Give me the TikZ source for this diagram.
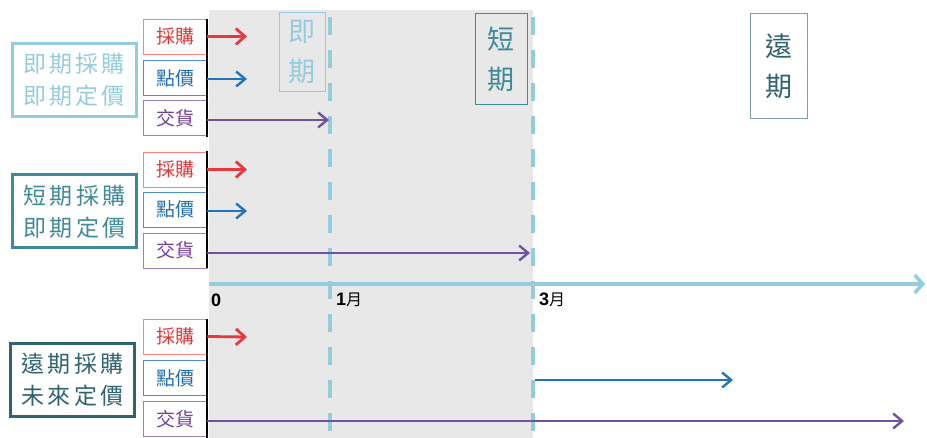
\documentclass[tikz,border=0pt]{standalone}
\usepackage{fontspec}
\setmainfont{Liberation Sans}
\newfontfamily\cjk{Noto Sans CJK TC}
\newfontfamily\cjksp[LetterSpace=14]{Noto Sans CJK TC}
\usetikzlibrary{arrows.meta}
\definecolor{lteal}{HTML}{93CDDD}
\definecolor{mteal}{HTML}{3F8A99}
\definecolor{dteal}{HTML}{2F6370}
\definecolor{bgray}{HTML}{E8E8E8}
\definecolor{redb}{HTML}{FF8080}
\definecolor{redt}{HTML}{E53535}
\definecolor{redA}{HTML}{E8383D}
\definecolor{blueb}{HTML}{4A90D0}
\definecolor{bluet}{HTML}{1F6DB5}
\definecolor{blueA}{HTML}{2275BA}
\definecolor{purb}{HTML}{9A80C0}
\definecolor{purt}{HTML}{7040A0}
\definecolor{purA}{HTML}{7052A0}
\definecolor{ydk}{HTML}{7F9EA6}
\tikzset{
  smallbox/.style={draw, line width=0.8pt, minimum width=64pt, minimum height=35pt, inner sep=0pt, font=\cjk\fontsize{19}{19}\selectfont},
  bigbox/.style={draw, line width=3pt, minimum width=124pt, minimum height=73pt, inner sep=0pt, align=center, font=\cjksp\fontsize{23}{32}\selectfont},
  periodbox/.style={draw, line width=1pt, inner sep=0pt, align=center, font=\cjk\fontsize{27}{40}\selectfont},
  arr/.style={line width=2.8pt, -{Straight Barb[length=9pt,width=16pt,line width=2.8pt]}},
  arrthin/.style={line width=2.4pt, -{Straight Barb[length=9pt,width=15pt,line width=2.4pt]}},
  dash1/.style={lteal, line width=4pt, dash pattern=on 18pt off 15pt},
  vline/.style={black, line width=1.5pt},
  axlab/.style={anchor=west, inner sep=0pt, font=\bfseries\fontsize{18}{18}\selectfont}
}
\begin{document}
\begin{tikzpicture}[x=1pt,y=-1pt]
\useasboundingbox (0,0) rectangle (927,438);
% gray background
\fill[bgray] (209,10) rectangle (533,438);
% dashed period lines
\draw[dash1] (330,17) -- (330,438);
\draw[dash1] (533,17) -- (533,438);
% axis
\coordinate (ax0) at (209,284);
\coordinate (axE) at (925,284);
\draw[lteal, line width=3.5pt, -{Straight Barb[length=8pt,width=18pt,line width=3.5pt]}] (ax0) -- (axE);
\node[axlab] (l0) at (211,300) {0};
\node[axlab] (l1) at (336,300) {1{\cjk\mdseries\fontsize{16}{16}\selectfont 月}};
\node[axlab] (l3) at (539,300) {3{\cjk\mdseries\fontsize{16}{16}\selectfont 月}};
% period labels
\node[periodbox, draw=lteal, text=lteal, minimum width=46pt, minimum height=79pt] (p1) at (302,52.5) {即\\期};
\node[periodbox, draw=mteal, text=mteal, minimum width=52pt, minimum height=91pt] (p2) at (501,59.5) {短\\期};
\node[periodbox, draw=ydk, text=dteal, minimum width=57pt, minimum height=105pt] (p3) at (778.5,66.5) {遠\\期};
% big boxes
\node[bigbox, draw=lteal, text=lteal] (g1) at (74,80) {即期採購\\即期定價};
\node[bigbox, draw=mteal, text=mteal] (g2) at (74.5,211.5) {短期採購\\即期定價};
\node[bigbox, draw=dteal, text=dteal] (g3) at (72.5,380) {遠期採購\\未來定價};
% group 1
\node[smallbox, draw=redb, text=redt] (b1a) at (175,36.5) {採購};
\node[smallbox, draw=blueb, text=bluet] (b1b) at (175,78) {點價};
\node[smallbox, draw=purb, text=purt] (b1c) at (175,118) {交貨};
\draw[vline] (207,19) -- (207,137);
\coordinate (s1b) at (207,79);
\coordinate (s1c) at (207,120);
\coordinate (e1a) at (247,36.5);
\coordinate (e1b) at (247,79);
\coordinate (e1c) at (329,120);
\draw[arr, redA] (b1a.east) -- (e1a);
\draw[arrthin, blueA] (s1b) -- (e1b);
\draw[arrthin, purA] (s1c) -- (e1c);
% group 2
\node[smallbox, draw=redb, text=redt] (b2a) at (175,169.5) {採購};
\node[smallbox, draw=blueb, text=bluet] (b2b) at (175,209.5) {點價};
\node[smallbox, draw=purb, text=purt] (b2c) at (175,250.5) {交貨};
\draw[vline] (207,151) -- (207,268);
\coordinate (s2b) at (207,211);
\coordinate (s2c) at (207,253);
\coordinate (e2a) at (247,169.5);
\coordinate (e2b) at (247,211);
\coordinate (e2c) at (530,253);
\draw[arr, redA] (b2a.east) -- (e2a);
\draw[arrthin, blueA] (s2b) -- (e2b);
\draw[arrthin, purA] (s2c) -- (e2c);
% group 3
\node[smallbox, draw=redb, text=redt] (b3a) at (175,336.5) {採購};
\node[smallbox, draw=blueb, text=bluet] (b3b) at (175,378) {點價};
\node[smallbox, draw=purb, text=purt] (b3c) at (175,419) {交貨};
\draw[vline] (207,319) -- (207,438);
\coordinate (s3c) at (207,421);
\coordinate (e3a) at (247,337);
\coordinate (s3b) at (535,380);
\coordinate (e3b) at (733,380);
\coordinate (e3c) at (904,421);
\draw[arr, redA] (b3a.east) -- (e3a);
\draw[arrthin, blueA] (s3b) -- (e3b);
\draw[arrthin, purA] (s3c) -- (e3c);
\end{tikzpicture}
\end{document}
